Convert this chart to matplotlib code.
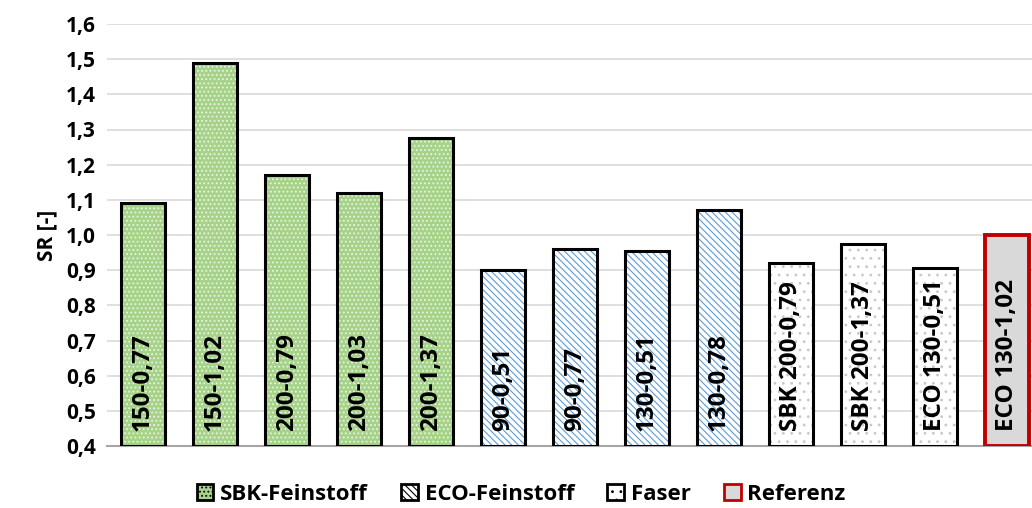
import matplotlib
matplotlib.use("Agg")
import matplotlib.pyplot as plt
from matplotlib.patches import Patch

plt.rcParams['font.family'] = ['Open Sans', 'DejaVu Sans']
plt.rcParams['font.weight'] = 'bold'
plt.rcParams['hatch.linewidth'] = 0.8

# Bar labels (drawn inside each bar) and SR values
labels = ["150-0,77", "150-1,02", "200-0,79", "200-1,03", "200-1,37",
          "90-0,51", "90-0,77", "130-0,51", "130-0,78",
          "SBK 200-0,79", "SBK 200-1,37", "ECO 130-0,51", "ECO 130-1,02"]
values = [1.09, 1.49, 1.17, 1.12, 1.275,
          0.90, 0.96, 0.955, 1.07,
          0.92, 0.975, 0.905, 1.00]
groups = ["SBK-Feinstoff"] * 5 + ["ECO-Feinstoff"] * 4 + ["Faser"] * 3 + ["Referenz"]

y_ticks = [0.4, 0.5, 0.6, 0.7, 0.8, 0.9, 1.0, 1.1, 1.2, 1.3, 1.4, 1.5, 1.6]
y_tick_labels = ["0,4", "0,5", "0,6", "0,7", "0,8", "0,9", "1,0",
                 "1,1", "1,2", "1,3", "1,4", "1,5", "1,6"]
legend_order = ["SBK-Feinstoff", "ECO-Feinstoff", "Faser", "Referenz"]

styles = {
    "SBK-Feinstoff": dict(face="#a6d28a", hatch="....", hcol="#e8f5df", edge="black", lw=2.2),
    "ECO-Feinstoff": dict(face="white", hatch="\\\\\\\\\\", hcol="#5b9bd5", edge="black", lw=2.2),
    "Faser": dict(face="white", hatch="..", hcol="#c8c8c8", edge="black", lw=2.2),
    "Referenz": dict(face="#d9d9d9", hatch=None, hcol="#d9d9d9", edge="#c00000", lw=2.8),
}

fig = plt.figure(figsize=(10.32, 5.08), dpi=100)
W, H = 1032, 508
ax = fig.add_axes([107 / W, (H - 446) / H, 936 / W, 422 / H])

x = list(range(len(values)))
base = 0.4
width = 0.61
for xi, v, g in zip(x, values, groups):
    st = styles[g]
    ax.bar(xi, v - base, bottom=base, width=width, color=st["face"],
           hatch=st["hatch"], edgecolor=st["hcol"], linewidth=0, zorder=3)
    ax.bar(xi, v - base, bottom=base, width=width, facecolor="none",
           edgecolor=st["edge"], linewidth=st["lw"], zorder=4)

for xi, lab in zip(x, labels):
    ax.text(xi, base + 0.043, lab, rotation=90, ha="center", va="bottom",
            fontsize=17.5, fontweight="bold", color="black", zorder=5)

ax.set_xlim(-0.5, len(values) - 0.5)
ax.set_ylim(0.4, 1.6)
ax.set_yticks(y_ticks)
ax.set_yticklabels(y_tick_labels, fontsize=15, fontweight="bold")
ax.set_xticks([])
ax.tick_params(axis="y", length=0, pad=8)
ax.grid(axis="y", color="#d9d9d9", linewidth=1.2, zorder=0)
for s in ["top", "right", "left"]:
    ax.spines[s].set_visible(False)
ax.spines["bottom"].set_color("#a6a6a6")
ax.spines["bottom"].set_linewidth(1.5)
ax.set_ylabel("SR [-]", fontsize=15, fontweight="bold", labelpad=6)

handles = []
for g in legend_order:
    st = styles[g]
    handles.append(Patch(facecolor=st["face"], hatch=st["hatch"],
                         edgecolor=st["edge"], linewidth=2.0, label=g))
fig.legend(handles=handles, loc="center", bbox_to_anchor=(0.505, 1 - 494 / H),
           ncol=4, frameon=False, handlelength=0.75,
           handleheight=0.75, handletextpad=0.3, columnspacing=1.5,
           prop=dict(weight="bold", size=16))

fig.savefig("out.png", dpi=100)
